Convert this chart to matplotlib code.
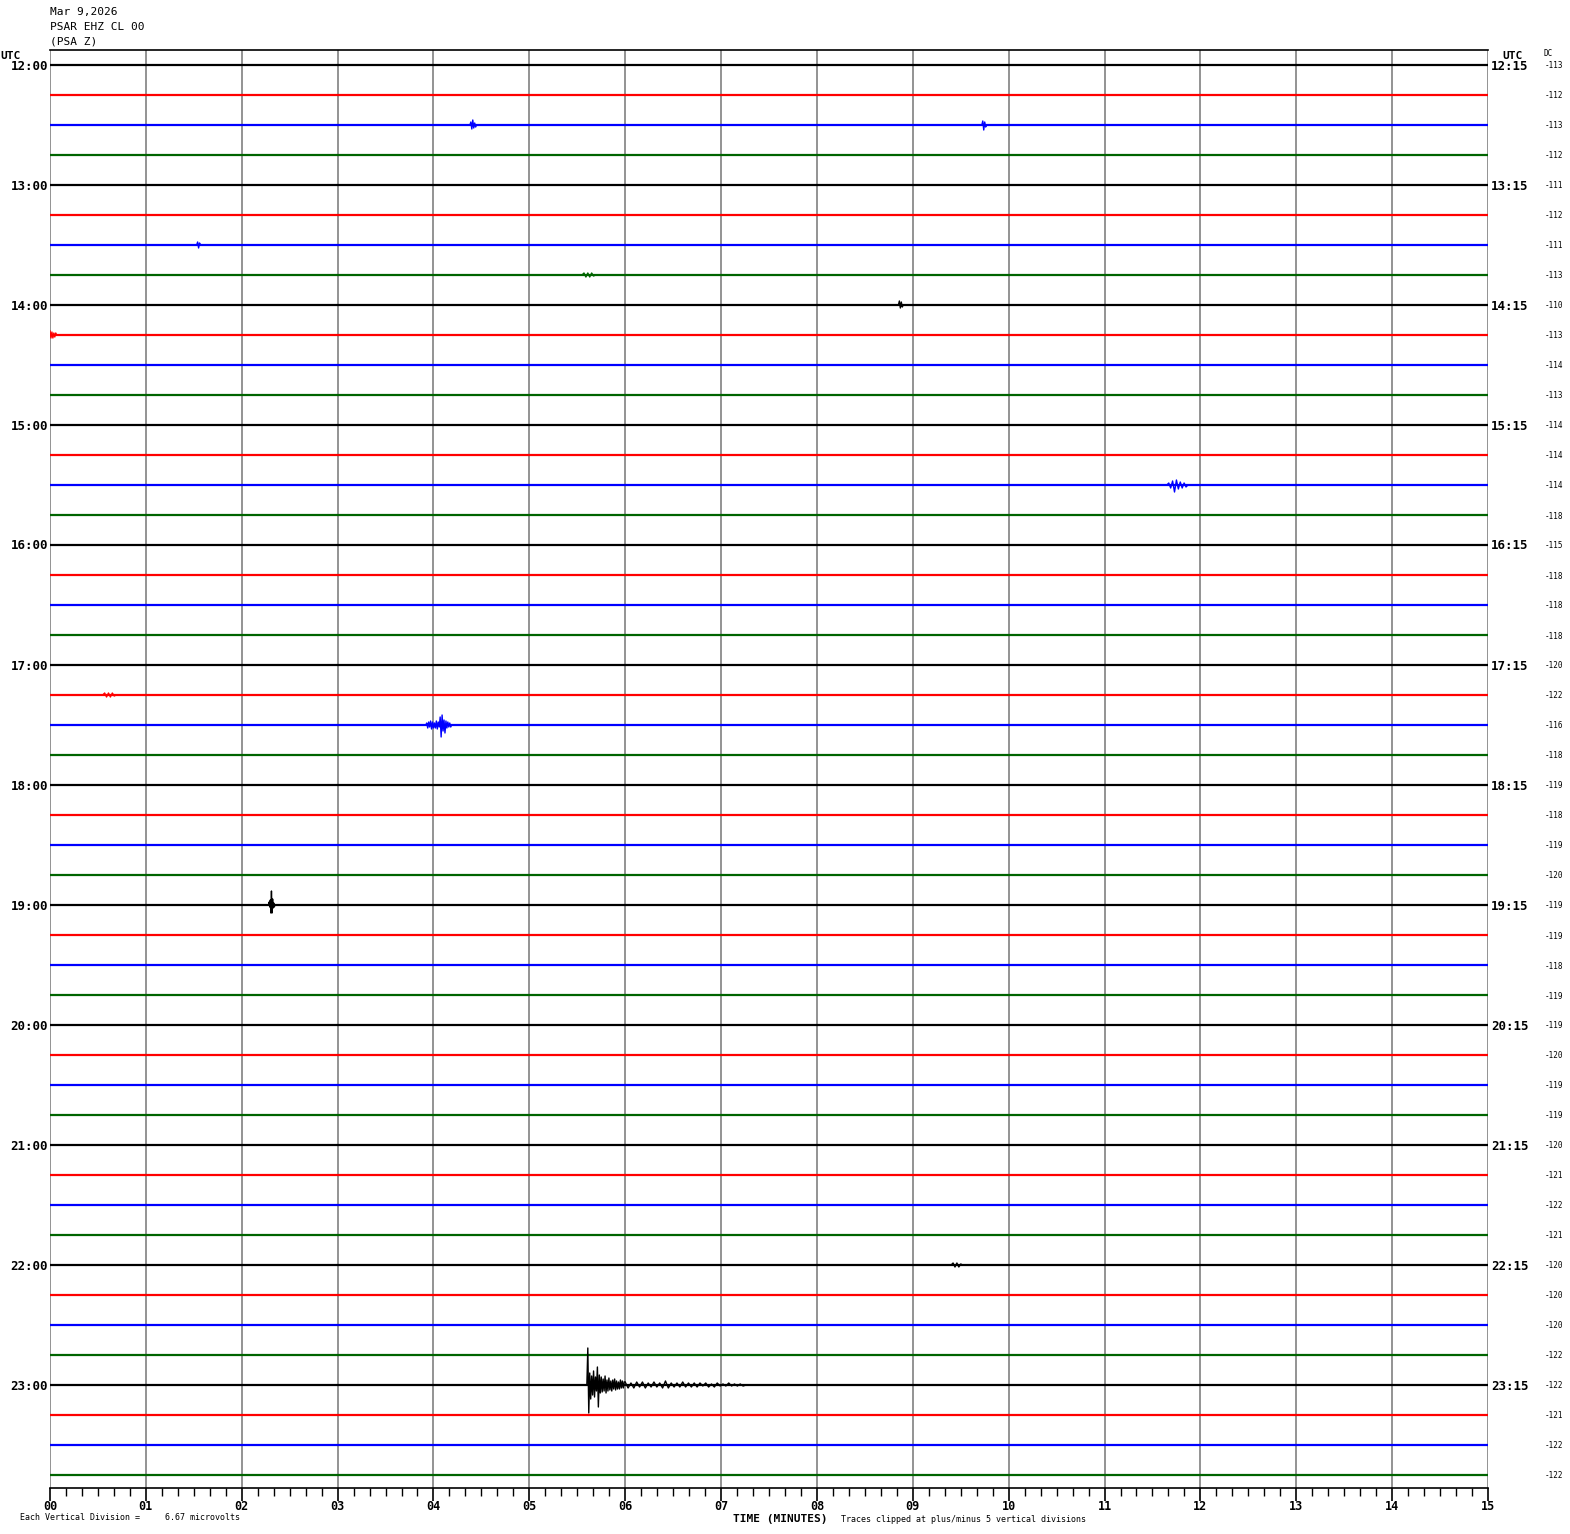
import numpy as np
import matplotlib
matplotlib.use("Agg")
from matplotlib import pyplot as plt

# header / labels
header = ["Mar 9,2026", "PSAR EHZ CL 00", "(PSA Z)"]
left_hours = ["12:00", "13:00", "14:00", "15:00", "16:00", "17:00",
              "18:00", "19:00", "20:00", "21:00", "22:00", "23:00"]
right_hours = ["12:15", "13:15", "14:15", "15:15", "16:15", "17:15",
               "18:15", "19:15", "20:15", "21:15", "22:15", "23:15"]
minute_labels = ["%02d" % m for m in range(16)]

# DC offset shown at the right of each trace
dc_values = [-113, -112, -113, -112, -111, -112, -111, -113, -110, -113, -114, -113,
             -114, -114, -114, -118, -115, -118, -118, -118, -120, -122, -116, -118,
             -119, -118, -119, -120, -119, -119, -118, -119, -119, -120, -119, -119,
             -120, -121, -122, -121, -120, -120, -120, -122, -122, -121, -122, -122]

trace_colors = ["black", "red", "blue", "#006400"]

# events: (row, start minute, step in minutes, amplitude samples in pixels, up positive)
events = [
    (2, 4.38, 0.01, [0, 3, -4, 5, -3, 2, -2, 0]),
    (2, 9.72, 0.01, [0, 4, -5, 3, -2, 0]),
    (6, 1.53, 0.01, [0, 3, -3, 2, 0]),
    (7, 5.55, 0.02, [0, 2, -2, 2, -2, 2, -1, 0]),
    (8, 8.85, 0.01, [0, 4, -3, 3, -2, 0]),
    (9, 0.0, 0.01, [4, -3, 3, -3, 2, -2, 2, 0]),
    (14, 11.65, 0.02, [0, 2, -3, 4, -7, 5, -4, 3, -3, 2, -2, 0]),
    (21, 0.55, 0.02, [0, 2, -2, 2, -2, 2, -1, 0]),
    (22, 3.92, 0.01, [0, 2, -3, 3, -2, 4, -4, 3, -3, 2, -3, 4, -4, 3, -2, 8,
                      -12, 10, -6, 5, -8, 4, -3, 3, -2, 2, -2, 0]),
    (28, 2.28, 0.006, [0, 3, -2, 5, -8, 14, -8, 6, -3, 2, -2, 0]),
    (40, 9.40, 0.02, [0, 2, -2, 2, -2, 1, 0]),
    (44, 5.60, 0.01, [0, 37, -28, 12, -14, 9, -10, 14, -12, 8, -6, 18, -22, 10,
                      -8, 8, -7, 6, -6, 9, -8, 5, -6, 7, -5, 4, -6, 5, -4, 6,
                      -5, 4, -4, 3, -4, 5, -3, 4, -3, 3]),
    (44, 6.00, 0.03, [3, -3, 2, -3, 3, -2, 3, -3, 2, -2, 3, -2, 2, -3, 4, -3,
                      2, -2, 2, -2, 3, -2, 2, -2, 2, -2, 2, -1, 2, -2, 1, -2,
                      2, -1, 1, -1, 2, -1, 1, -1, 1, -1, 0]),
]

n_rows = len(dc_values)
row_px = 30.0
mono = "DejaVu Sans Mono"

fig = plt.figure(figsize=(15.7, 15.34), dpi=100)
W, H = 1570, 1534
ax = fig.add_axes([50 / W, 1 - 1488 / H, (1488 - 50) / W, (1488 - 50) / H])

ax.set_xlim(0, 15)
ax.set_ylim(n_rows - 1 + 13 / row_px, -15 / row_px)

# minute grid
for m in range(16):
    ax.axvline(m, color="#808080", lw=1.2, zorder=1)

# baseline traces
for i in range(n_rows):
    c = trace_colors[i % 4]
    ax.plot([0, 15], [i, i], color=c, lw=1.6, zorder=2, solid_capstyle="butt")

# events
for row, start, step, samples in events:
    c = trace_colors[row % 4]
    s = np.array(samples, dtype=float)
    x = start + step * np.arange(len(s))
    ax.plot(x, row - s / row_px, color=c, lw=1.0, zorder=3)

# spines
for side in ["left", "right"]:
    ax.spines[side].set_visible(False)
ax.spines["top"].set_color("black")
ax.spines["bottom"].set_color("black")
ax.spines["top"].set_linewidth(1.2)
ax.spines["bottom"].set_linewidth(1.2)

ax.set_yticks([])
ax.set_xticks(range(16))
ax.set_xticklabels(minute_labels, fontfamily=mono, fontweight="bold", fontsize=8.5)
ax.set_xticks(np.arange(0, 15.01, 1 / 6), minor=True)
ax.tick_params(axis="x", which="major", direction="out", length=9, width=1.2, pad=0)
ax.tick_params(axis="x", which="minor", direction="out", length=6, width=1.0)

# hour labels
for k in range(12):
    y = 66 + k * 4 * row_px
    fig.text(48 / W, 1 - y / H, left_hours[k], ha="right", va="center",
             fontfamily=mono, fontweight="bold", fontsize=9)
    fig.text(1491 / W, 1 - y / H, right_hours[k], ha="left", va="center",
             fontfamily=mono, fontweight="bold", fontsize=9)
fig.text(0, 1 - 56 / H, "UTC", ha="left", va="center", fontfamily=mono,
         fontweight="bold", fontsize=8)
fig.text(1502 / W, 1 - 56 / H, "UTC", ha="left", va="center", fontfamily=mono,
         fontweight="bold", fontsize=8)
fig.text(1544 / W, 1 - 53 / H, "DC", ha="left", va="center", fontfamily=mono,
         fontsize=5.5)

for i, v in enumerate(dc_values):
    y = 66 + i * row_px
    fig.text(1545 / W, 1 - y / H, str(v), ha="left", va="center",
             fontfamily=mono, fontsize=5.5)

for j, line in enumerate(header):
    fig.text(50 / W, 1 - (12 + j * 15) / H, line, ha="left", va="center",
             fontfamily=mono, fontsize=8)

fig.text(20 / W, 1 - 1518 / H, "Each Vertical Division =     6.67 microvolts",
         ha="left", va="center", fontfamily=mono, fontsize=6)
fig.text(733 / W, 1 - 1519 / H, "TIME (MINUTES)", ha="left", va="center",
         fontfamily=mono, fontweight="bold", fontsize=8)
fig.text(841 / W, 1 - 1519 / H, "Traces clipped at plus/minus 5 vertical divisions",
         ha="left", va="center", fontfamily=mono, fontsize=6)

fig.savefig("out.png", dpi=100, facecolor="white")
